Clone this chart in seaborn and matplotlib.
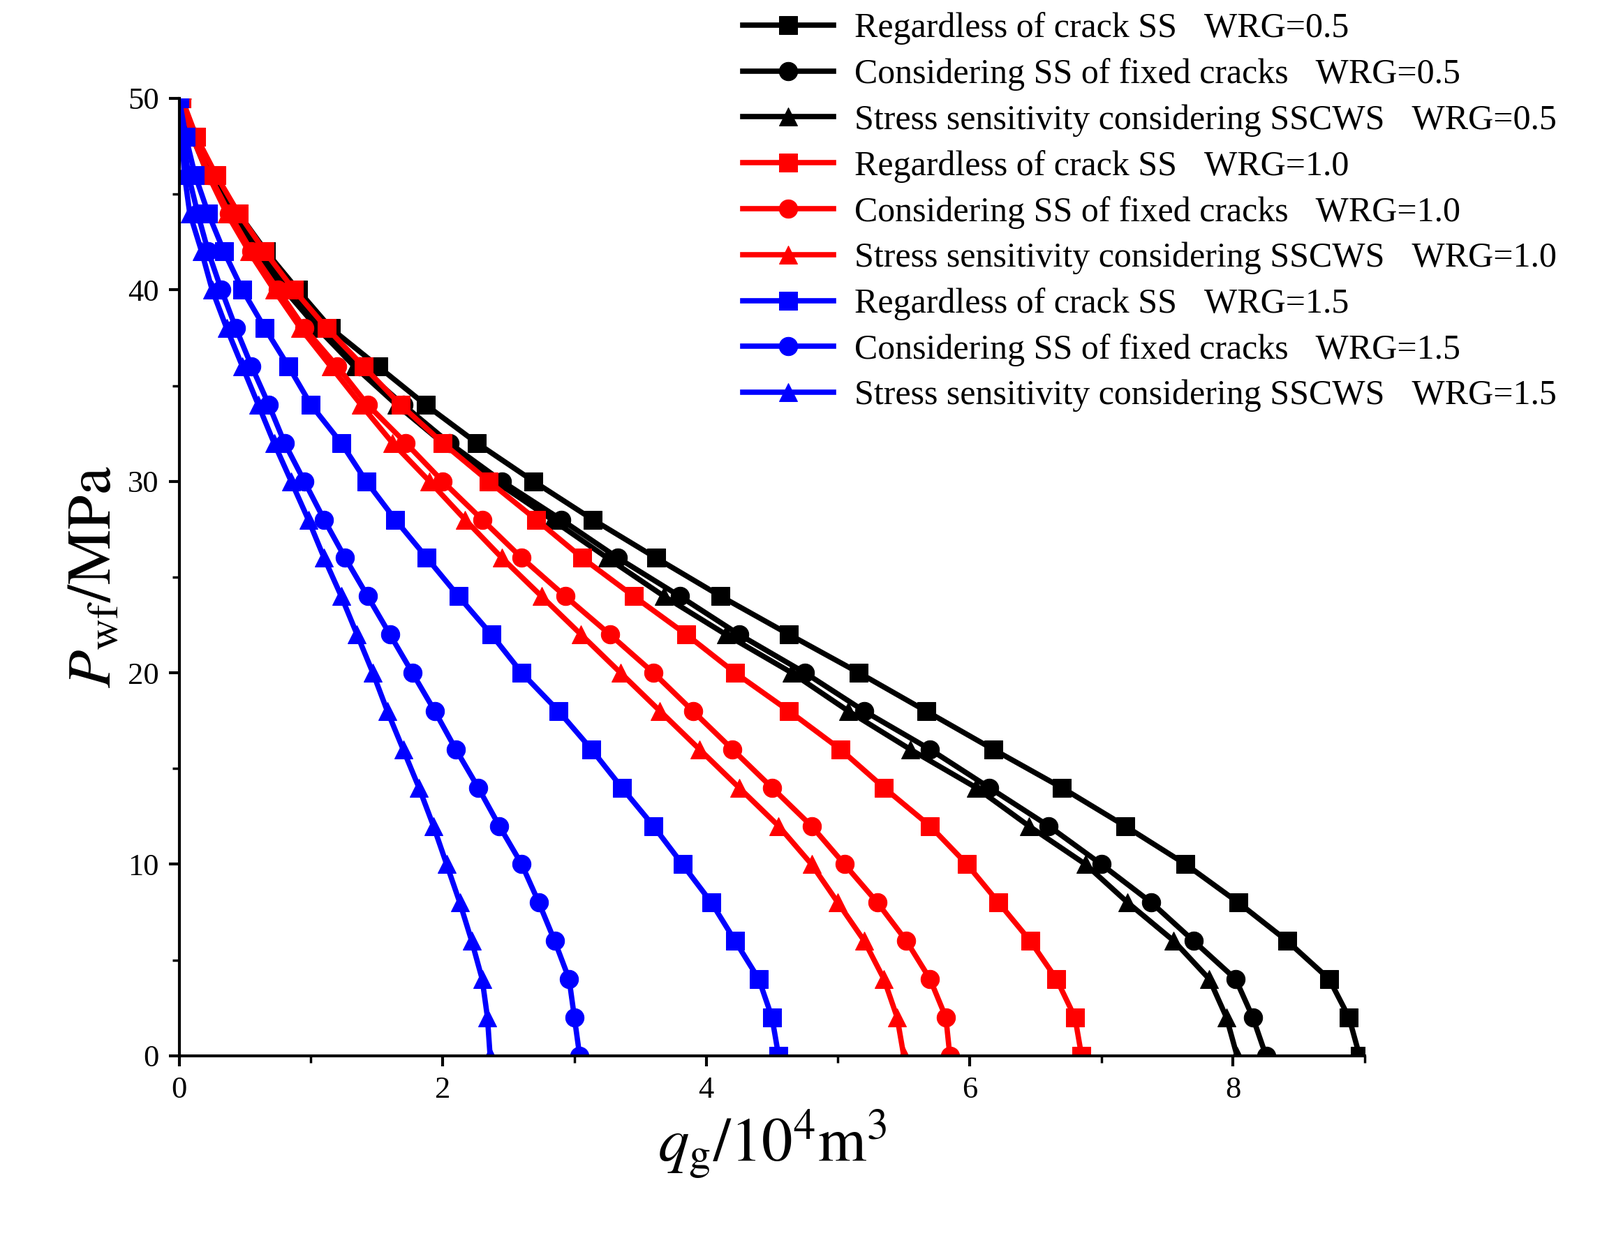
import numpy as np
import pandas as pd
import matplotlib
matplotlib.use("Agg")
import matplotlib.pyplot as plt
import seaborn as sns

pressure = list(range(0, 52, 2))
labels = [
    "Regardless of crack SS（WRG=0.5）",
    "Considering SS of fixed cracks（WRG=0.5）",
    "Stress sensitivity considering SSCWS（WRG=0.5）",
    "Regardless of crack SS（WRG=1.0）",
    "Considering SS of fixed cracks（WRG=1.0）",
    "Stress sensitivity considering SSCWS（WRG=1.0）",
    "Regardless of crack SS（WRG=1.5）",
    "Considering SS of fixed cracks（WRG=1.5）",
    "Stress sensitivity considering SSCWS（WRG=1.5）",
]
colors = ["black"] * 3 + ["#ff0000"] * 3 + ["#0000ff"] * 3
markers = ["s", "o", "^"] * 3

q_b_sq = [8.96, 8.88, 8.73, 8.41, 8.04, 7.64, 7.18, 6.70, 6.18, 5.67, 5.16, 4.63, 4.11, 3.62, 3.14, 2.69, 2.26, 1.87, 1.51, 1.15, 0.90, 0.66, 0.45, 0.27, 0.12, 0.02]
q_b_ci = [8.25, 8.15, 8.02, 7.70, 7.38, 7.00, 6.60, 6.15, 5.70, 5.20, 4.75, 4.25, 3.80, 3.33, 2.90, 2.45, 2.05, 1.70, 1.37, 1.10, 0.85, 0.62, 0.42, 0.25, 0.12, 0.02]
q_b_tr = [8.03, 7.95, 7.82, 7.55, 7.20, 6.88, 6.45, 6.05, 5.55, 5.08, 4.65, 4.15, 3.68, 3.25, 2.83, 2.40, 2.00, 1.65, 1.33, 1.05, 0.80, 0.58, 0.38, 0.22, 0.10, 0.00]
q_r_sq = [6.85, 6.80, 6.66, 6.46, 6.22, 5.98, 5.70, 5.35, 5.02, 4.63, 4.22, 3.85, 3.45, 3.06, 2.71, 2.35, 2.00, 1.68, 1.40, 1.12, 0.87, 0.65, 0.45, 0.28, 0.13, 0.02]
q_r_ci = [5.85, 5.82, 5.70, 5.52, 5.30, 5.05, 4.80, 4.50, 4.20, 3.90, 3.60, 3.27, 2.93, 2.60, 2.30, 2.00, 1.72, 1.43, 1.20, 0.95, 0.75, 0.55, 0.38, 0.23, 0.10, 0.02]
q_r_tr = [5.50, 5.45, 5.35, 5.20, 5.00, 4.80, 4.55, 4.25, 3.95, 3.65, 3.35, 3.05, 2.75, 2.45, 2.17, 1.90, 1.62, 1.38, 1.15, 0.92, 0.72, 0.53, 0.36, 0.22, 0.10, 0.02]
q_u_sq = [4.55, 4.50, 4.40, 4.22, 4.04, 3.82, 3.60, 3.36, 3.13, 2.88, 2.60, 2.37, 2.12, 1.88, 1.64, 1.42, 1.23, 1.00, 0.83, 0.65, 0.48, 0.34, 0.22, 0.12, 0.05, 0.00]
q_u_ci = [3.04, 3.00, 2.96, 2.85, 2.73, 2.60, 2.43, 2.27, 2.10, 1.94, 1.77, 1.60, 1.43, 1.26, 1.10, 0.95, 0.80, 0.68, 0.55, 0.43, 0.32, 0.22, 0.14, 0.07, 0.03, 0.00]
q_u_tr = [2.36, 2.34, 2.30, 2.22, 2.13, 2.03, 1.93, 1.82, 1.70, 1.58, 1.47, 1.35, 1.23, 1.10, 0.98, 0.85, 0.72, 0.60, 0.48, 0.36, 0.25, 0.17, 0.08, 0.04, 0.02, 0.00]
series = [q_b_sq, q_b_ci, q_b_tr, q_r_sq, q_r_ci, q_r_tr, q_u_sq, q_u_ci, q_u_tr]

plt.rcParams["font.family"] = ["Liberation Serif", "Noto Sans CJK SC"]
plt.rcParams["mathtext.fontset"] = "stix"
fig = plt.figure(figsize=(22.92, 17.84), dpi=100)
ax = fig.add_axes([0.112, 0.152, 0.741, 0.769])

for lab, q, c, m in zip(labels, series, colors, markers):
    df = pd.DataFrame({"q": q, "P": pressure})
    sns.lineplot(data=df, x="q", y="P", sort=False, estimator=None, ax=ax,
                 color=c, marker=m, markersize=19, markeredgecolor=c,
                 linewidth=5.5, label=lab)

ax.set_xlim(0, 9)
ax.set_ylim(0, 50)
ax.set_xticks([0, 2, 4, 6, 8])
ax.set_xticks(np.arange(0, 9.1, 1), minor=True)
ax.set_yticks([0, 10, 20, 30, 40, 50])
ax.set_yticks(np.arange(0, 51, 5), minor=True)
for s in ["top", "right"]:
    ax.spines[s].set_visible(False)
for s in ["left", "bottom"]:
    ax.spines[s].set_linewidth(3)
ax.tick_params(axis="both", which="major", direction="out", length=11, width=3, labelsize=32, pad=10)
ax.tick_params(axis="both", which="minor", direction="out", length=7, width=2.5)
ax.set_xlabel(r"$q_{\mathrm{g}}/10^4\mathrm{m}^3$", fontsize=64)
ax.set_ylabel(r"$P_{\mathrm{wf}}/\mathrm{MPa}$", fontsize=64)

h, l = ax.get_legend_handles_labels()
ax.get_legend().remove()
fig.legend(h, l, loc="upper right", bbox_to_anchor=(1.005, 1.01), frameon=False,
           fontsize=36, handlelength=2.6, labelspacing=0.38, borderaxespad=0.3,
           handletextpad=0.6)

fig.savefig("out.png", dpi=100)
